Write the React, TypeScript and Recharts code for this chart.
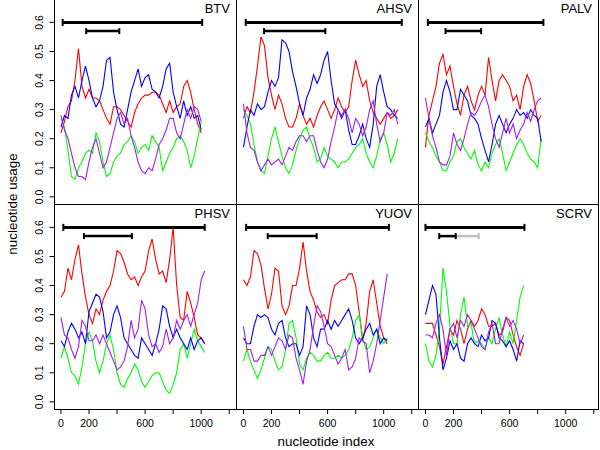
import React from "react";
import { LineChart, Line, XAxis, YAxis, ReferenceLine } from "recharts";

// positions along the genome segment (sliding window start)
const nucleotideIndex = [
  0, 25, 50, 75, 100, 125, 150, 175, 200, 225, 250, 275, 300, 325, 350, 375, 400, 425, 450, 475, 500,
  525, 550, 575, 600, 625, 650, 675, 700, 725, 750, 775, 800, 825, 850, 875, 900, 925, 950, 975, 1000,
  1025, 1050, 1075, 1100,
];

const xTicks = [0, 200, 400, 600, 800, 1000, 1200];
const xTickLabels = ["0", "200", "", "600", "", "1000", ""];
const yTicks = [0, 0.1, 0.2, 0.3, 0.4, 0.5, 0.6];
const yTickLabels = ["0.0", "0.1", "0.2", "0.3", "0.4", "0.5", "0.6"];

// BTV
const btvRed = [0.22, 0.26, 0.31, 0.33, 0.4, 0.51, 0.38, 0.34, 0.37, 0.34, 0.34, 0.33, 0.3, 0.27, 0.25, 0.31, 0.31, 0.3, 0.28, 0.26, 0.24, 0.29, 0.32, 0.34, 0.35, 0.35, 0.36, 0.36, 0.35, 0.32, 0.29, 0.33, 0.29, 0.31, 0.32, 0.38, 0.4, 0.36, 0.3, 0.25, 0.22];
const btvBlue = [0.24, 0.28, 0.27, 0.35, 0.38, 0.34, 0.4, 0.45, 0.4, 0.34, 0.31, 0.33, 0.38, 0.47, 0.48, 0.36, 0.3, 0.25, 0.24, 0.3, 0.36, 0.4, 0.44, 0.38, 0.41, 0.42, 0.37, 0.36, 0.34, 0.38, 0.44, 0.46, 0.36, 0.31, 0.27, 0.33, 0.28, 0.31, 0.27, 0.28, 0.23];
const btvGreen = [0.27, 0.24, 0.16, 0.07, 0.06, 0.1, 0.12, 0.15, 0.16, 0.15, 0.22, 0.19, 0.12, 0.07, 0.08, 0.12, 0.14, 0.15, 0.18, 0.19, 0.21, 0.19, 0.15, 0.17, 0.18, 0.16, 0.21, 0.19, 0.17, 0.09, 0.12, 0.15, 0.17, 0.2, 0.21, 0.19, 0.16, 0.1, 0.14, 0.2, 0.26];
const btvPurple = [0.28, 0.23, 0.2, 0.15, 0.1, 0.07, 0.07, 0.06, 0.12, 0.17, 0.2, 0.15, 0.1, 0.12, 0.17, 0.22, 0.27, 0.29, 0.25, 0.27, 0.21, 0.17, 0.12, 0.09, 0.08, 0.1, 0.09, 0.13, 0.18, 0.2, 0.23, 0.27, 0.27, 0.22, 0.2, 0.25, 0.3, 0.27, 0.31, 0.3, 0.26];
const btvBars: [number, number, number][] = [[12, 1007, 0.6], [180, 416, 0.57]];

// AHSV
const ahsvRed = [0.27, 0.31, 0.29, 0.36, 0.45, 0.55, 0.52, 0.41, 0.35, 0.3, 0.35, 0.32, 0.27, 0.24, 0.24, 0.27, 0.32, 0.28, 0.25, 0.27, 0.24, 0.28, 0.31, 0.33, 0.3, 0.27, 0.3, 0.34, 0.31, 0.29, 0.31, 0.4, 0.47, 0.42, 0.38, 0.4, 0.33, 0.29, 0.27, 0.25, 0.27, 0.29, 0.27, 0.28, 0.3];
const ahsvBlue = [0.17, 0.24, 0.3, 0.28, 0.32, 0.3, 0.31, 0.36, 0.4, 0.38, 0.41, 0.54, 0.53, 0.5, 0.43, 0.38, 0.32, 0.28, 0.34, 0.37, 0.42, 0.39, 0.42, 0.47, 0.5, 0.4, 0.32, 0.3, 0.27, 0.3, 0.23, 0.18, 0.18, 0.21, 0.25, 0.2, 0.17, 0.25, 0.38, 0.42, 0.36, 0.31, 0.3, 0.28, 0.27];
const ahsvGreen = [0.3, 0.28, 0.25, 0.18, 0.12, 0.09, 0.08, 0.14, 0.2, 0.24, 0.19, 0.14, 0.1, 0.08, 0.11, 0.16, 0.2, 0.23, 0.24, 0.2, 0.17, 0.12, 0.13, 0.17, 0.14, 0.13, 0.12, 0.1, 0.12, 0.12, 0.13, 0.15, 0.17, 0.18, 0.2, 0.15, 0.12, 0.1, 0.14, 0.2, 0.22, 0.18, 0.12, 0.15, 0.2];
const ahsvPurple = [0.32, 0.22, 0.17, 0.16, 0.12, 0.09, 0.11, 0.13, 0.11, 0.12, 0.13, 0.11, 0.14, 0.17, 0.16, 0.19, 0.21, 0.21, 0.19, 0.21, 0.21, 0.16, 0.12, 0.1, 0.13, 0.19, 0.24, 0.3, 0.28, 0.3, 0.27, 0.22, 0.27, 0.25, 0.21, 0.24, 0.3, 0.33, 0.25, 0.19, 0.22, 0.29, 0.28, 0.3, 0.25];
const ahsvBars: [number, number, number][] = [[16, 1129, 0.6], [147, 584, 0.57]];

// PALV
const palvRed = [0.17, 0.28, 0.33, 0.38, 0.46, 0.49, 0.42, 0.45, 0.38, 0.32, 0.28, 0.35, 0.38, 0.33, 0.3, 0.35, 0.38, 0.35, 0.48, 0.4, 0.33, 0.4, 0.42, 0.4, 0.38, 0.33, 0.35, 0.3, 0.38, 0.42, 0.39, 0.33, 0.26, 0.28];
const palvBlue = [0.24, 0.27, 0.22, 0.25, 0.28, 0.36, 0.4, 0.36, 0.3, 0.3, 0.37, 0.35, 0.33, 0.28, 0.27, 0.25, 0.2, 0.16, 0.12, 0.18, 0.25, 0.28, 0.25, 0.22, 0.25, 0.27, 0.3, 0.28, 0.29, 0.27, 0.3, 0.28, 0.27, 0.19];
const palvGreen = [0.22, 0.19, 0.17, 0.14, 0.12, 0.09, 0.09, 0.12, 0.14, 0.19, 0.2, 0.17, 0.15, 0.13, 0.16, 0.11, 0.09, 0.12, 0.1, 0.15, 0.18, 0.2, 0.15, 0.09, 0.12, 0.15, 0.18, 0.2, 0.18, 0.15, 0.13, 0.12, 0.1, 0.2];
const palvPurple = [0.34, 0.27, 0.21, 0.17, 0.12, 0.11, 0.11, 0.14, 0.22, 0.18, 0.16, 0.2, 0.25, 0.29, 0.28, 0.3, 0.33, 0.35, 0.31, 0.25, 0.2, 0.17, 0.22, 0.27, 0.22, 0.25, 0.2, 0.23, 0.25, 0.29, 0.26, 0.3, 0.33, 0.34];
const palvBars: [number, number, number][] = [[17, 841, 0.6], [143, 397, 0.57]];

// PHSV
const phsvRed = [0.36, 0.38, 0.46, 0.42, 0.49, 0.54, 0.44, 0.36, 0.3, 0.27, 0.32, 0.3, 0.35, 0.38, 0.4, 0.45, 0.52, 0.51, 0.48, 0.44, 0.42, 0.43, 0.4, 0.43, 0.45, 0.52, 0.56, 0.49, 0.44, 0.45, 0.41, 0.49, 0.6, 0.4, 0.29, 0.28, 0.38, 0.34, 0.29, 0.23, 0.22, 0.2];
const phsvBlue = [0.21, 0.19, 0.24, 0.27, 0.25, 0.22, 0.24, 0.2, 0.31, 0.34, 0.37, 0.36, 0.31, 0.22, 0.24, 0.3, 0.33, 0.29, 0.22, 0.2, 0.18, 0.16, 0.15, 0.22, 0.2, 0.18, 0.16, 0.2, 0.25, 0.33, 0.32, 0.26, 0.22, 0.25, 0.22, 0.2, 0.18, 0.22, 0.18, 0.21, 0.22, 0.2];
const phsvGreen = [0.15, 0.19, 0.15, 0.1, 0.09, 0.06, 0.12, 0.2, 0.24, 0.21, 0.14, 0.1, 0.14, 0.2, 0.23, 0.18, 0.1, 0.06, 0.05, 0.08, 0.1, 0.13, 0.11, 0.07, 0.05, 0.07, 0.09, 0.1, 0.1, 0.07, 0.04, 0.03, 0.06, 0.1, 0.18, 0.2, 0.15, 0.2, 0.25, 0.21, 0.19, 0.17];
const phsvPurple = [0.29, 0.23, 0.22, 0.18, 0.15, 0.19, 0.28, 0.26, 0.21, 0.21, 0.23, 0.2, 0.23, 0.2, 0.17, 0.14, 0.11, 0.12, 0.14, 0.19, 0.28, 0.22, 0.25, 0.35, 0.32, 0.23, 0.19, 0.2, 0.17, 0.19, 0.25, 0.2, 0.22, 0.28, 0.25, 0.28, 0.3, 0.26, 0.3, 0.34, 0.42, 0.45];
const phsvBars: [number, number, number][] = [[17, 1025, 0.6], [164, 506, 0.57]];

// YUOV
const yuovRed = [0.42, 0.4, 0.43, 0.52, 0.51, 0.47, 0.39, 0.32, 0.37, 0.46, 0.45, 0.33, 0.3, 0.33, 0.4, 0.4, 0.46, 0.55, 0.45, 0.38, 0.35, 0.31, 0.29, 0.3, 0.27, 0.35, 0.4, 0.41, 0.42, 0.42, 0.44, 0.44, 0.4, 0.31, 0.21, 0.27, 0.38, 0.42, 0.34, 0.26, 0.22, 0.2];
const yuovBlue = [0.22, 0.2, 0.2, 0.26, 0.3, 0.29, 0.3, 0.29, 0.25, 0.23, 0.27, 0.28, 0.22, 0.19, 0.2, 0.2, 0.16, 0.19, 0.33, 0.3, 0.22, 0.19, 0.25, 0.25, 0.28, 0.25, 0.28, 0.26, 0.28, 0.3, 0.32, 0.28, 0.22, 0.2, 0.22, 0.25, 0.27, 0.23, 0.25, 0.2, 0.22, 0.21];
const yuovGreen = [0.14, 0.18, 0.14, 0.11, 0.08, 0.11, 0.15, 0.19, 0.18, 0.14, 0.11, 0.12, 0.18, 0.27, 0.28, 0.22, 0.13, 0.11, 0.15, 0.17, 0.16, 0.14, 0.14, 0.16, 0.17, 0.15, 0.15, 0.16, 0.15, 0.16, 0.18, 0.22, 0.28, 0.3, 0.22, 0.18, 0.19, 0.22, 0.25, 0.22, 0.2, 0.22];
const yuovPurple = [0.26, 0.18, 0.18, 0.14, 0.14, 0.16, 0.16, 0.19, 0.16, 0.19, 0.22, 0.21, 0.18, 0.23, 0.22, 0.15, 0.11, 0.06, 0.14, 0.18, 0.26, 0.33, 0.31, 0.26, 0.2, 0.19, 0.16, 0.13, 0.15, 0.18, 0.11, 0.12, 0.15, 0.22, 0.21, 0.2, 0.1, 0.14, 0.2, 0.28, 0.36, 0.44];
const yuovBars: [number, number, number][] = [[19, 1037, 0.6], [173, 522, 0.57]];

// SCRV
const scrvRed = [0.27, 0.27, 0.27, 0.23, 0.19, 0.13, 0.19, 0.25, 0.23, 0.28, 0.25, 0.2, 0.25, 0.28, 0.26, 0.28, 0.32, 0.3, 0.26, 0.26, 0.27, 0.23, 0.24, 0.29, 0.28, 0.23, 0.19, 0.16, 0.2];
const scrvBlue = [0.3, 0.35, 0.4, 0.37, 0.22, 0.11, 0.15, 0.21, 0.18, 0.2, 0.15, 0.14, 0.2, 0.22, 0.2, 0.19, 0.23, 0.21, 0.22, 0.28, 0.27, 0.22, 0.21, 0.19, 0.21, 0.18, 0.14, 0.21, 0.2];
const scrvGreen = [0.2, 0.14, 0.12, 0.16, 0.25, 0.46, 0.38, 0.26, 0.2, 0.2, 0.3, 0.36, 0.26, 0.27, 0.2, 0.21, 0.2, 0.18, 0.22, 0.2, 0.25, 0.29, 0.23, 0.19, 0.24, 0.2, 0.28, 0.36, 0.4];
const scrvPurple = [0.23, 0.23, 0.22, 0.27, 0.3, 0.25, 0.16, 0.25, 0.27, 0.22, 0.28, 0.26, 0.3, 0.28, 0.25, 0.22, 0.19, 0.18, 0.24, 0.27, 0.2, 0.2, 0.25, 0.29, 0.26, 0.28, 0.25, 0.2, 0.23];
const scrvBars: [number, number, number][] = [[0, 706, 0.6], [98, 216, 0.57]];
const scrvPartialBars: [number, number, number][] = [[216, 380, 0.57]];

const FONT = "'Liberation Sans', Arial, Helvetica, sans-serif";
const PX_PER_INDEX = 0.14025;
const X_MIN = -46;
const Y_DOMAIN: [number, number] = [-0.028, 0.677];
const COL_EDGES = [54.5, 236.5, 418.5, 598.5];
const ROW_EDGES = [-0.5, 204.5, 409.5];
const X_AXIS_H = 40;

const COLORS = { red: "#ff0000", green: "#00ff00", blue: "#0000ff", purple: "#a020f0" };

type Bar = [number, number, number];

interface Panel {
  name: string;
  col: number;
  row: number;
  red: number[];
  green: number[];
  blue: number[];
  purple: number[];
  bars: Bar[];
  partialBars?: Bar[];
}

const panels: Panel[] = [
  { name: "BTV", col: 0, row: 0, red: btvRed, green: btvGreen, blue: btvBlue, purple: btvPurple, bars: btvBars },
  { name: "AHSV", col: 1, row: 0, red: ahsvRed, green: ahsvGreen, blue: ahsvBlue, purple: ahsvPurple, bars: ahsvBars },
  { name: "PALV", col: 2, row: 0, red: palvRed, green: palvGreen, blue: palvBlue, purple: palvPurple, bars: palvBars },
  { name: "PHSV", col: 0, row: 1, red: phsvRed, green: phsvGreen, blue: phsvBlue, purple: phsvPurple, bars: phsvBars },
  { name: "YUOV", col: 1, row: 1, red: yuovRed, green: yuovGreen, blue: yuovBlue, purple: yuovPurple, bars: yuovBars },
  {
    name: "SCRV", col: 2, row: 1, red: scrvRed, green: scrvGreen, blue: scrvBlue, purple: scrvPurple,
    bars: scrvBars, partialBars: scrvPartialBars,
  },
];

const toPoints = (values: number[]) => values.map((v, i) => ({ x: nucleotideIndex[i], v }));

// horizontal bar with flat end caps
function CapBar(props: any) {
  const { x1, y1, x2, y2, stroke, strokeWidth, capHalf } = props;
  return (
    <g>
      <line x1={x1} y1={y1} x2={x2} y2={y2} stroke={stroke} strokeWidth={strokeWidth} />
      <line x1={x1} y1={y1 - capHalf} x2={x1} y2={y1 + capHalf} stroke={stroke} strokeWidth={2} />
      <line x1={x2} y1={y2 - capHalf} x2={x2} y2={y2 + capHalf} stroke={stroke} strokeWidth={2} />
    </g>
  );
}

function YTick({ x, y, payload }: any) {
  const label = yTickLabels[yTicks.indexOf(payload.value)];
  return (
    <text
      x={x}
      y={y}
      transform={`rotate(-90 ${x} ${y})`}
      textAnchor="middle"
      fontSize={10.5}
      fontWeight={400}
      fontFamily={FONT}
      fill="#000"
    >
      {label}
    </text>
  );
}

function renderBar(b: Bar, key: string, color: string, width: number, capHalf: number) {
  return (
    <ReferenceLine
      key={key}
      segment={[{ x: b[0], y: b[2] }, { x: b[1], y: b[2] }]}
      stroke={color}
      strokeWidth={width}
      shape={(p: any) => <CapBar {...p} stroke={color} strokeWidth={width} capHalf={capHalf} />}
    />
  );
}

function PanelChart({ panel }: { panel: Panel }) {
  const left = COL_EDGES[panel.col];
  const plotW = COL_EDGES[panel.col + 1] - left;
  const top = ROW_EDGES[panel.row];
  const plotH = ROW_EDGES[panel.row + 1] - top;
  const hasY = panel.col === 0;
  const hasX = panel.row === 1;
  const chartLeft = hasY ? 0 : left;
  const yAxisW = hasY ? left : 0;
  const xMax = X_MIN + plotW / PX_PER_INDEX;

  const series: [keyof typeof COLORS, number[]][] = [
    ["red", panel.red],
    ["green", panel.green],
    ["blue", panel.blue],
    ["purple", panel.purple],
  ];

  return (
    <div style={{ position: "absolute", left: chartLeft, top }}>
      <LineChart
        width={yAxisW + plotW}
        height={plotH + (hasX ? X_AXIS_H : 0)}
        margin={{ top: 0, right: 0, bottom: 0, left: 0 }}
      >
        <XAxis
          type="number"
          dataKey="x"
          domain={[X_MIN, xMax]}
          allowDataOverflow
          ticks={xTicks}
          interval={0}
          hide={!hasX}
          height={X_AXIS_H}
          axisLine={false}
          tickLine={{ stroke: "#000" }}
          tickSize={4}
          tickMargin={6}
          tick={{ fill: "#000", fontSize: 10.5, fontFamily: FONT }}
          tickFormatter={(v: number) => xTickLabels[xTicks.indexOf(v)]}
        />
        <YAxis
          type="number"
          domain={Y_DOMAIN}
          allowDataOverflow
          ticks={yTicks}
          interval={0}
          hide={!hasY}
          width={yAxisW}
          axisLine={false}
          tickLine={{ stroke: "#000" }}
          tickSize={5}
          tickMargin={6}
          tick={(p: any) => <YTick {...p} />}
        />
        {series.map(([color, values]) => (
          <Line
            key={color}
            data={toPoints(values)}
            dataKey="v"
            type="linear"
            stroke={COLORS[color]}
            strokeWidth={1.1}
            dot={false}
            activeDot={false}
            isAnimationActive={false}
          />
        ))}
        {(panel.partialBars || []).map((b, i) => renderBar(b, `g${i}`, "#bebebe", 2.5, 3))}
        {panel.bars.map((b, i) => renderBar(b, `b${i}`, "#000", i === 0 ? 3 : 2.5, i === 0 ? 3.5 : 3))}
      </LineChart>
    </div>
  );
}

export default function App() {
  return (
    <div
      style={{
        position: "fixed",
        left: 0,
        top: 0,
        width: 600,
        height: 450,
        background: "#fff",
        overflow: "hidden",
        fontFamily: FONT,
      }}
    >
      {panels.map((p) => (
        <PanelChart key={p.name} panel={p} />
      ))}
      <svg width={600} height={450} style={{ position: "absolute", left: 0, top: 0, pointerEvents: "none" }}>
        {panels.map((p) => {
          const x0 = COL_EDGES[p.col];
          const x1 = COL_EDGES[p.col + 1];
          const y0 = ROW_EDGES[p.row];
          const y1 = ROW_EDGES[p.row + 1];
          return (
            <g key={p.name}>
              <rect x={x0} y={y0} width={x1 - x0} height={y1 - y0} fill="none" stroke="#000" strokeWidth={1} />
              <text x={x1 - 6.5} y={y0 + 13} textAnchor="end" fontSize={13} fontWeight={400} fontFamily={FONT} fill="#000">
                {p.name}
              </text>
            </g>
          );
        })}
        <text x={326} y={446} textAnchor="middle" fontSize={13.4} fontWeight={400} fontFamily={FONT} fill="#000">
          nucleotide index
        </text>
        <text
          x={17}
          y={204}
          transform="rotate(-90 17 204)"
          textAnchor="middle"
          fontSize={13.4}
          fontWeight={400}
          fontFamily={FONT}
          fill="#000"
        >
          nucleotide usage
        </text>
      </svg>
    </div>
  );
}
